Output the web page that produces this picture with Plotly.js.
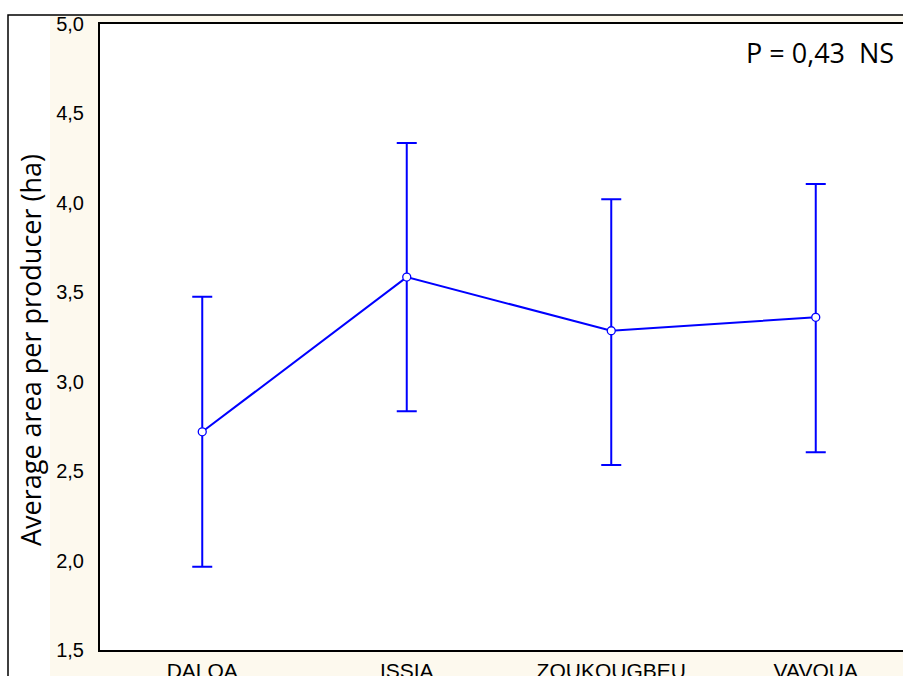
<!DOCTYPE html>
<html>
<head>
<meta charset="utf-8">
<script src="https://cdn.plot.ly/plotly-3.0.1.min.js"></script>
<style>
  html, body { margin: 0; padding: 0; background: #ffffff; overflow: hidden; width: 903px; height: 676px; }
  #chart { width: 930px; height: 676px; }
</style>
</head>
<body>
<div id="chart"></div>
<script>
// ---- data ----
const regions = ["DALOA", "ISSIA", "ZOUKOUGBEU", "VAVOUA"];
const meanArea = [2.72, 3.585, 3.285, 3.36];
const upperCI = [3.475, 4.335, 4.02, 4.105];
const lowerCI = [1.965, 2.835, 2.535, 2.605];
const yTicks = [1.5, 2.0, 2.5, 3.0, 3.5, 4.0, 4.5, 5.0];
const pLabel = "P = 0,43  NS";
const yTitle = "Average area per producer (ha)";

// ---- layout geometry (pixels) ----
const W = 930, H = 676;
const M = { l: 100, r: 12, t: 24, b: 26 };
const PW = W - M.l - M.r, PH = H - M.t - M.b;
const px2x = p => (p - M.l) / PW;
const px2y = p => (H - M.b - p) / PH;

const cream = "#fdf9ee";
const blue = "#0000ff";

const errPlus = upperCI.map((u, i) => u - meanArea[i]);
const errMinus = lowerCI.map((l, i) => meanArea[i] - l);

const trace = {
  type: "scatter",
  mode: "lines+markers",
  x: regions,
  y: meanArea,
  line: { color: blue, width: 2 },
  marker: { size: 8, color: "#ffffff", line: { color: blue, width: 1.3 } },
  error_y: {
    type: "data",
    symmetric: false,
    array: errPlus,
    arrayminus: errMinus,
    color: blue,
    thickness: 2,
    width: 10
  },
  hoverinfo: "x+y",
  showlegend: false
};

const layout = {
  width: W,
  height: H,
  margin: M,
  paper_bgcolor: cream,
  plot_bgcolor: "#ffffff",
  separators: ",.",
  showlegend: false,
  font: { family: "Liberation Sans, Arial, sans-serif", color: "#000000" },
  xaxis: {
    type: "category",
    range: [-0.5, regions.length - 0.5],
    showline: true,
    linecolor: "#000000",
    linewidth: 2,
    mirror: true,
    showgrid: false,
    zeroline: false,
    ticks: "",
    ticklabelstandoff: 1,
    tickfont: { family: "Liberation Sans, Arial, sans-serif", size: 21, color: "#000000" }
  },
  xaxis2: {
    type: "linear",
    overlaying: "x",
    side: "top",
    anchor: "y",
    range: [-0.5, regions.length - 0.5],
    tickvals: regions.map((_, i) => i),
    ticks: "inside",
    ticklen: 4,
    tickwidth: 2,
    tickcolor: "#000000",
    showticklabels: false,
    showline: false,
    showgrid: false,
    zeroline: false
  },
  yaxis: {
    range: [1.5, 5.0],
    tickvals: yTicks,
    tickformat: ".1f",
    showline: true,
    linecolor: "#000000",
    linewidth: 2,
    mirror: true,
    showgrid: false,
    zeroline: false,
    ticks: "",
    ticklabelstandoff: 10,
    tickfont: { family: "Liberation Sans, Arial, sans-serif", size: 20, color: "#000000" }
  },
  shapes: [
    { type: "rect", xref: "paper", yref: "paper", layer: "below",
      x0: px2x(-5), x1: px2x(50), y0: px2y(H + 10), y1: px2y(-5),
      fillcolor: "#ffffff", line: { width: 0 } },
    { type: "rect", xref: "paper", yref: "paper", layer: "below",
      x0: px2x(-5), x1: px2x(W + 10), y0: px2y(15), y1: px2y(-5),
      fillcolor: "#ffffff", line: { width: 0 } },
    { type: "rect", xref: "paper", yref: "paper", layer: "above",
      x0: px2x(8), x1: px2x(W + 20), y0: px2y(H + 20), y1: px2y(15),
      fillcolor: "rgba(0,0,0,0)", line: { color: "#000000", width: 1.5 } }
  ],
  annotations: [
    { text: yTitle, xref: "paper", yref: "paper",
      x: px2x(30), y: px2y(350), xanchor: "center", yanchor: "middle",
      textangle: -90, showarrow: false,
      font: { family: "Open Sans, Noto Sans, sans-serif", size: 27, color: "#000000" } },
    { text: pLabel, xref: "paper", yref: "paper",
      x: px2x(896), y: px2y(52), xanchor: "right", yanchor: "middle",
      showarrow: false,
      font: { family: "Open Sans, Noto Sans, sans-serif", size: 27, color: "#000000" } }
  ]
};

Plotly.newPlot("chart", [trace], layout, { staticPlot: true, displayModeBar: false });
</script>
</body>
</html>
